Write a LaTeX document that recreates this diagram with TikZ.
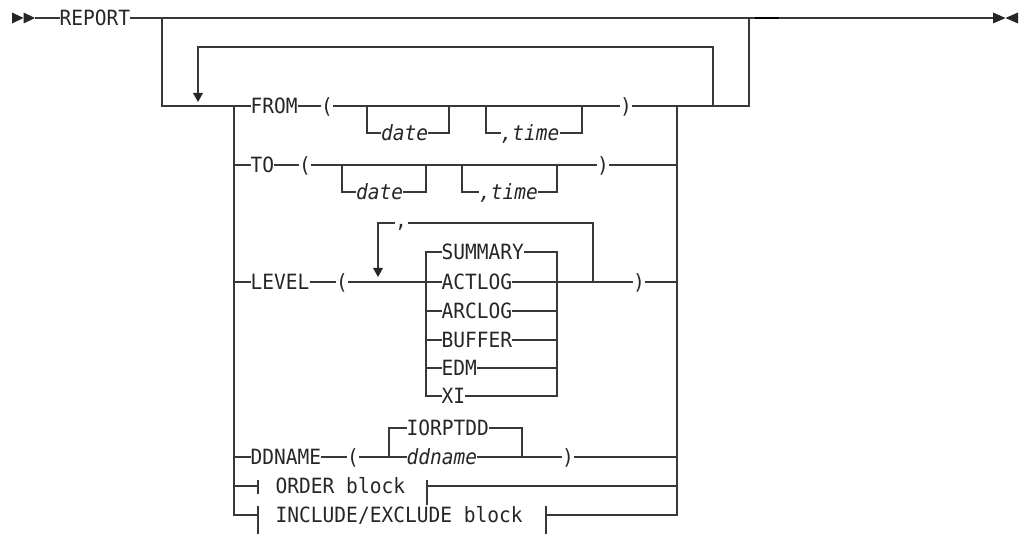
\documentclass[tikz,border=0pt]{standalone}
\usepackage{fontspec}
\newfontfamily\kwfam[FakeStretch=0.93]{DejaVu Sans Mono}
\newcommand{\kwf}{\kwfam\fontsize{21}{22}\selectfont}
\begin{document}
\begin{tikzpicture}[x=1pt,y=-1pt,
  ln/.style={line width=1.1pt,draw=black!78},
  kw/.style={font=\kwf,inner sep=0pt,anchor=west,text height=15.3pt,text depth=0pt,text=black!85},
  var/.style={kw,font=\kwf\itshape},
  par/.style={kw,anchor=center},
  tip/.style={fill=black!85}]
\useasboundingbox (0,0) rectangle (1023,534);

% ---- text nodes ----
\node[kw] (report) at (59.5,18) {REPORT};
\node[kw] (from) at (250.5,106) {FROM};
\node[par] (lpf) at (327,106) {(};
\node[par] (rpf) at (626,106) {)};
\node[var] (fdate) at (381,133) {date};
\node[var] (ftime) at (500.5,133) {,time};
\node[kw] (to) at (250.5,165) {TO};
\node[par] (lpt) at (305,165) {(};
\node[par] (rpt) at (603,165) {)};
\node[var] (tdate) at (356,192) {date};
\node[var] (ttime) at (479,192) {,time};
\node[kw] (level) at (250.5,282) {LEVEL};
\node[par] (lpl) at (342,282) {(};
\node[par] (rpl) at (639,282) {)};
\node[font=\kwf,inner sep=0pt,text=black!85] (comma) at (401,227) {,};
\node[kw] (summary) at (441.5,252) {SUMMARY};
\node[kw] (actlog) at (441.5,282) {ACTLOG};
\node[kw] (arclog) at (441.5,311) {ARCLOG};
\node[kw] (buffer) at (441.5,340) {BUFFER};
\node[kw] (edm) at (441.5,368) {EDM};
\node[kw] (xi) at (441.5,396) {XI};
\node[kw] (ddn) at (250.5,457) {DDNAME};
\node[par] (lpd) at (353,457) {(};
\node[par] (rpd) at (568,457) {)};
\node[kw] (iorptdd) at (406.5,428) {IORPTDD};
\node[var] (ddvar) at (406.5,457) {ddname};
\node[kw] (order) at (275.5,486) {ORDER block};
\node[kw] (incl) at (275.5,515) {INCLUDE/EXCLUDE block};

% ---- main line and ends ----
\fill[tip] (12,12.5) -- (23.5,18) -- (12,23.5) -- cycle;
\fill[tip] (23.5,12.5) -- (35,18) -- (23.5,23.5) -- cycle;
\draw[ln] (35,18) -- (report.west);
\draw[ln] (report.east) -- (993,18);
\draw[line width=1.6pt,black] (755,18) -- (779,18);
\fill[tip] (993,12.5) -- (1005.5,18) -- (993,23.5) -- cycle;
\fill[tip] (1018,12.5) -- (1005.5,18) -- (1018,23.5) -- cycle;

% ---- optional / repeat frame ----
\draw[ln] (162,18) -- (162,106) -- (from.west);
\draw[ln] (677,106) -- (749,106) -- (749,18);
\draw[ln] (713,106) -- (713,47) -- (198,47) -- (198,94);
\fill[tip] (193,93) -- (203,93) -- (198,102) -- cycle;
\draw[ln] (234,106) -- (234,515) -- (258,515);
\draw[ln] (677,106) -- (677,515) -- (546,515);

% ---- FROM ----
\draw[ln] (from.east) -- (lpf.west);
\draw[ln] (lpf.east) -- (rpf.west);
\draw[ln] (rpf.east) -- (677,106);
\draw[ln] (367,106) -- (367,133) -- (fdate.west);
\draw[ln] (fdate.east) -- (449,133) -- (449,106);
\draw[ln] (486,106) -- (486,133) -- (ftime.west);
\draw[ln] (ftime.east) -- (582,133) -- (582,106);

% ---- TO ----
\draw[ln] (234,165) -- (to.west);
\draw[ln] (to.east) -- (lpt.west);
\draw[ln] (lpt.east) -- (rpt.west);
\draw[ln] (rpt.east) -- (677,165);
\draw[ln] (342,165) -- (342,192) -- (tdate.west);
\draw[ln] (tdate.east) -- (426,192) -- (426,165);
\draw[ln] (462,165) -- (462,192) -- (ttime.west);
\draw[ln] (ttime.east) -- (557,192) -- (557,165);

% ---- LEVEL ----
\draw[ln] (234,282) -- (level.west);
\draw[ln] (level.east) -- (lpl.west);
\draw[ln] (lpl.east) -- (actlog.west);
\draw[ln] (actlog.east) -- (rpl.west);
\draw[ln] (rpl.east) -- (677,282);
\draw[ln] (593,282) -- (593,223) -- (408,223);
\draw[ln] (395,223) -- (378,223) -- (378,269);
\fill[tip] (373,268) -- (383,268) -- (378,277) -- cycle;
\draw[ln] (summary.west) -- (426,252) -- (426,396) -- (xi.west);
\draw[ln] (summary.east) -- (557,252) -- (557,396) -- (xi.east);
\draw[ln] (426,311) -- (arclog.west);
\draw[ln] (arclog.east) -- (557,311);
\draw[ln] (426,340) -- (buffer.west);
\draw[ln] (buffer.east) -- (557,340);
\draw[ln] (426,368) -- (edm.west);
\draw[ln] (edm.east) -- (557,368);

% ---- DDNAME ----
\draw[ln] (234,457) -- (ddn.west);
\draw[ln] (ddn.east) -- (lpd.west);
\draw[ln] (lpd.east) -- (ddvar.west);
\draw[ln] (ddvar.east) -- (rpd.west);
\draw[ln] (rpd.east) -- (677,457);
\draw[ln] (389,457) -- (389,428) -- (iorptdd.west);
\draw[ln] (iorptdd.east) -- (522,428) -- (522,457);

% ---- ORDER block ----
\draw[ln] (234,486) -- (258,486);
\draw[ln] (258,480) -- (258,494);
\draw[ln] (427,480) -- (427,505);
\draw[ln] (427,486) -- (677,486);

% ---- INCLUDE/EXCLUDE block ----
\draw[ln] (258,506) -- (258,534);
\draw[ln] (546,506) -- (546,534);
\end{tikzpicture}
\end{document}
